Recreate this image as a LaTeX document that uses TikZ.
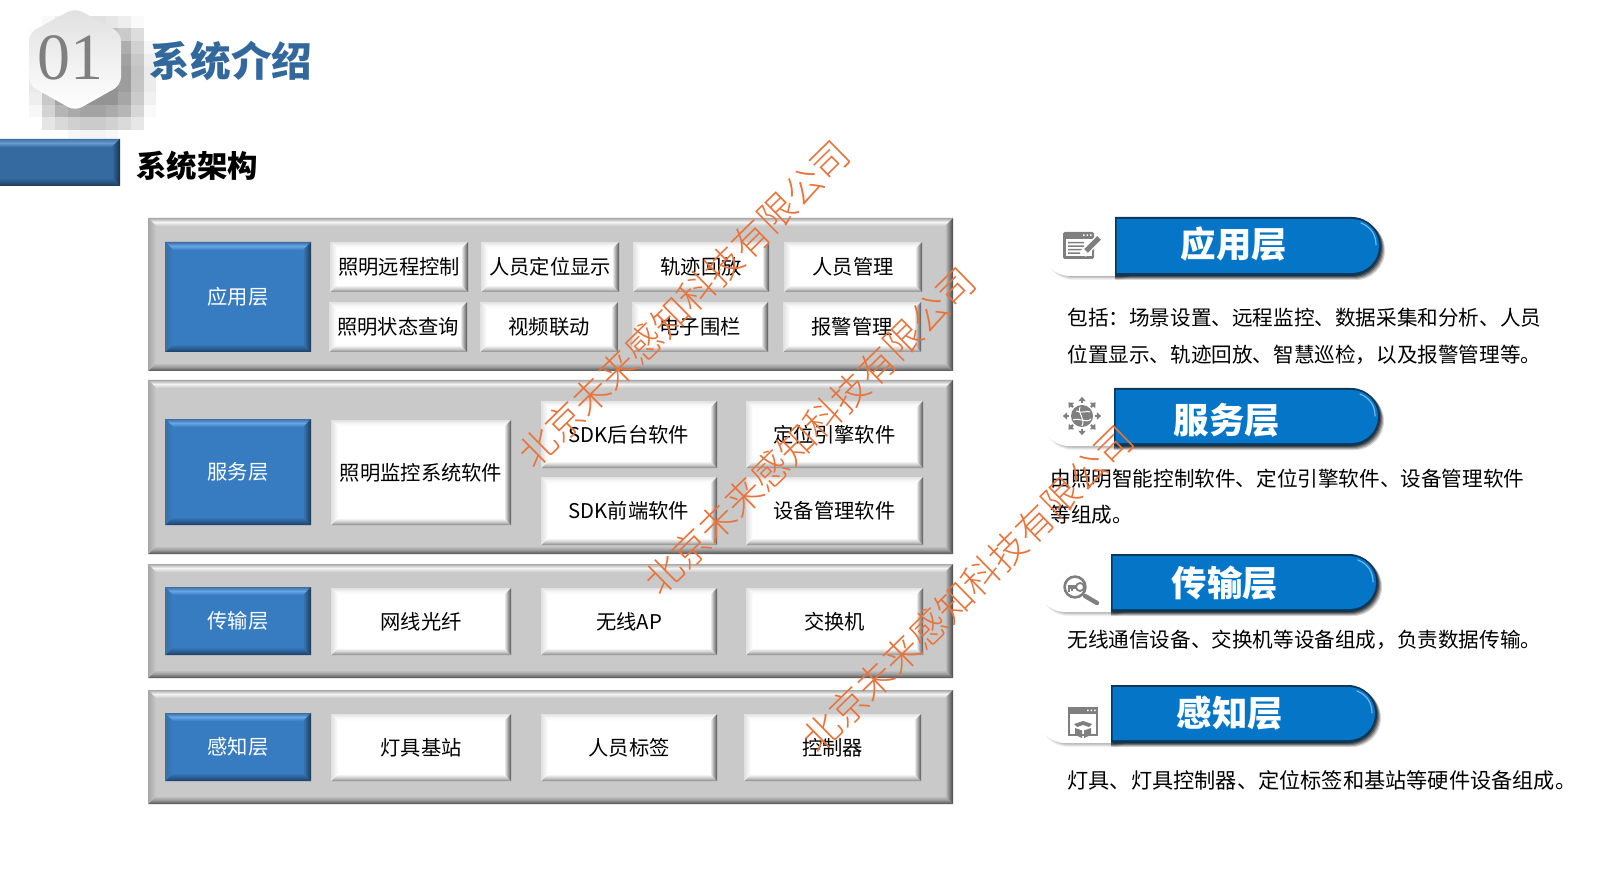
\documentclass[tikz,border=0pt]{standalone}
\usepackage{fontspec}
\setmainfont{Noto Sans CJK SC}
\newfontfamily\wmfont{Noto Sans CJK SC Light}
\newfontfamily\numfont{Liberation Serif}
\usetikzlibrary{calc}
\newcommand{\fwcolon}{\symbol{"FF1A}}
\newcommand{\fwcomma}{\symbol{"FF0C}}
% grey panel
\definecolor{panmain}{HTML}{C9C9C9}\definecolor{pantopa}{HTML}{A8A8A8}\definecolor{pantopb}{HTML}{F4F4F4}
\definecolor{panbota}{HTML}{4F4F4F}\definecolor{panbotb}{HTML}{9A9A9A}\definecolor{panlefta}{HTML}{A6A6A6}\definecolor{panrighta}{HTML}{454545}
% blue box
\definecolor{blumain}{HTML}{377CC0}\definecolor{blutopa}{HTML}{3D6E9F}\definecolor{blutopb}{HTML}{68A6E8}
\definecolor{blubota}{HTML}{1D3F62}\definecolor{blubotb}{HTML}{2B5F95}\definecolor{blulefta}{HTML}{3A70A6}\definecolor{blurighta}{HTML}{1B3A5A}
% white box
\definecolor{whimain}{HTML}{FFFFFF}\definecolor{whitopa}{HTML}{E2E2E2}\definecolor{whitopb}{HTML}{F8F8F8}
\definecolor{whibota}{HTML}{8A8A8A}\definecolor{whibotb}{HTML}{D0D0D0}\definecolor{whilefta}{HTML}{E0E0E0}\definecolor{whirighta}{HTML}{555555}
% header bar
\definecolor{barmain}{HTML}{346A9F}\definecolor{bartopa}{HTML}{3F73A6}\definecolor{bartopb}{HTML}{6A9BD0}
\definecolor{barbota}{HTML}{1B3B5C}\definecolor{barbotb}{HTML}{2A5580}\definecolor{barlefta}{HTML}{346A9F}\definecolor{barrighta}{HTML}{17324E}
\definecolor{titleblue}{HTML}{33689C}
\definecolor{pillblue}{HTML}{0575C8}
\definecolor{pilldark}{HTML}{0B3858}
\definecolor{pilllight}{HTML}{6FB8F0}
\definecolor{iconcol}{HTML}{7F7F7F}
\definecolor{wmcol}{HTML}{E8743B}
\tikzset{
  whitxt/.style={text=black,font=\fontsize{10.15}{12}\selectfont,inner sep=0pt},
  blutxt/.style={text=white,font=\fontsize{10.15}{12}\selectfont,inner sep=0pt},
  pantxt/.style={inner sep=0pt},
  bartxt/.style={inner sep=0pt},
  bodytxt/.style={anchor=west,inner sep=0pt,text=black,font=\fontsize{10.3}{12}\selectfont},
  widetxt/.style={anchor=west,inner sep=0pt,text=black,font=\fontsize{10.6}{12}\selectfont},
  pilltxt/.style={inner sep=0pt,text=white,font=\fontsize{17.7}{20}\bfseries\selectfont},
  wmtxt/.style={inner sep=0pt,text=wmcol,rotate=44.5,font=\fontsize{18.6}{22}\wmfont\selectfont},
}
% name, x1,y1,x2,y2, family, text, bevel
\newcommand{\bevelbox}[8]{%
  \pgfmathsetmacro\xa{#2+#8}\pgfmathsetmacro\xb{#4-#8}\pgfmathsetmacro\ya{#3+#8}\pgfmathsetmacro\yb{#5-#8}%
  \fill[#6main] (#2,#3) rectangle (#4,#5);
  \shade[top color=#6topa,bottom color=#6main,middle color=#6topb] (#2,#3)--(#4,#3)--(\xb,\ya)--(\xa,\ya)--cycle;
  \shade[top color=#6main,bottom color=#6bota,middle color=#6botb] (#2,#5)--(#4,#5)--(\xb,\yb)--(\xa,\yb)--cycle;
  \shade[left color=#6lefta,right color=#6main] (#2,#3)--(\xa,\ya)--(\xa,\yb)--(#2,#5)--cycle;
  \shade[left color=#6main,right color=#6righta] (#4,#3)--(\xb,\ya)--(\xb,\yb)--(#4,#5)--cycle;
  \node[#6txt] (#1) at ($(#2,#3)!0.5!(#4,#5)$) {#7};
}
% name, x1(blue start), y1, x2, y2, tab left, text, text x, text y
\newcommand{\pillbar}[9]{%
  \pgfmathsetmacro\rad{(#5-#3)/4}%
  \pgfmathsetmacro\radi{(#5-#3-5)/4}%
  \foreach \s/\o in {4/.05,3/.07,2/.09,1/.11}{
    \fill[black,opacity=\o,rounded corners=14pt] (#6+3,#3+\s) -- (#2+30,#3+\s) -- (#2+30,#5+\s) -- (#6+3,#5+\s) -- cycle;
  }
  \foreach \s/\o in {4/.16,3/.22,2/.29,1/.35}{
    \fill[black,opacity=\o] (#2,#3+\s) -- (#4+\s-2*\rad,#3+\s) arc[start angle=90,end angle=-90,radius=\rad pt] -- (#2,#5+\s) -- cycle;
  }
  \fill[white,rounded corners=14pt] (#6,#3) -- (#2+30,#3) -- (#2+30,#5) -- (#6,#5) -- cycle;
  \fill[pilldark] (#2,#3) -- (#4-2*\rad,#3) arc[start angle=90,end angle=-90,radius=\rad pt] -- (#2,#5) -- cycle;
  \fill[pillblue] (#2+1.5,#3+2) -- (#4-2-2*\radi,#3+2) arc[start angle=90,end angle=-90,radius=\radi pt] -- (#2+1.5,#5-3) -- cycle;
  \draw[pilllight,line width=.6pt,line cap=round] (#4-20,#3+6) .. controls (#4-10,#3+10) and (#4-5,#3+18) .. (#4-5,#3+28);
  \node[pilltxt] (#1) at (#8,#9) {#7};
}
\begin{document}
\begin{tikzpicture}[x=0.5pt,y=-0.5pt]
\useasboundingbox (0,0) rectangle (1616,871);
\fill[white] (0,0) rectangle (1616,871);
% blurred shadow of the hexagon
\foreach \i in {0,...,12}{\foreach \j in {0,...,10}{
  \pgfmathsetmacro\cx{4+12.7*\i}\pgfmathsetmacro\cy{3+12.7*\j}
  \pgfmathsetmacro\dxx{abs(\cx+6-92)}\pgfmathsetmacro\dyy{abs(\cy+6-76)}
  \pgfmathsetmacro\rr{0.5*max(\dxx,\dyy)+0.5*sqrt(\dxx*\dxx+\dyy*\dyy)}
  \pgfmathsetmacro\lev{max(0,min(42,42*(1-(\rr-30)/34)))}
  \fill[black!\lev!white] (\cx,\cy) rectangle (\cx+13.2,\cy+13.2);
}}
\shade[top color=black!12,bottom color=white,rounded corners=4pt] (75,8)--(121,33)--(121,85)--(75,111)--(29,85)--(29,33)--cycle;
\node[inner sep=0pt,text=iconcol,font=\fontsize{33}{36}\numfont\selectfont] (num) at (70,58) {01};
\node[inner sep=0pt,text=titleblue,font=\fontsize{20.3}{24}\bfseries\selectfont] (title) at (231,61) {系统介绍};
\bevelbox{bar}{-10}{139}{120}{186}{bar}{}{8}
\node[inner sep=0pt,text=black,font=\fontsize{15.2}{18}\bfseries\selectfont] (sub) at (197,166) {系统架构};
% panels
\bevelbox{p1}{148}{218}{953}{371}{pan}{}{8}
\bevelbox{p2}{148}{380}{953}{554}{pan}{}{8}
\bevelbox{p3}{148}{564}{953}{678}{pan}{}{8}
\bevelbox{p4}{148}{690}{953}{804}{pan}{}{8}
% application layer
\bevelbox{a0}{165}{242}{311}{352}{blu}{应用层}{8}
\bevelbox{a1}{330}{242}{468}{292}{whi}{照明远程控制}{7}
\bevelbox{a2}{481}{242}{619}{292}{whi}{人员定位显示}{7}
\bevelbox{a3}{633}{242}{769}{292}{whi}{轨迹回放}{7}
\bevelbox{a4}{784}{242}{922}{292}{whi}{人员管理}{7}
\bevelbox{a5}{329}{302}{467}{352}{whi}{照明状态查询}{7}
\bevelbox{a6}{480}{302}{618}{352}{whi}{视频联动}{7}
\bevelbox{a7}{632}{302}{768}{352}{whi}{电子围栏}{7}
\bevelbox{a8}{783}{302}{921}{352}{whi}{报警管理}{7}
% service layer
\bevelbox{s0}{165}{419}{311}{525}{blu}{服务层}{8}
\bevelbox{s1}{331}{420}{511}{525}{whi}{照明监控系统软件}{7}
\bevelbox{s2}{541}{401}{717}{468}{whi}{SDK后台软件}{7}
\bevelbox{s3}{746}{401}{923}{468}{whi}{定位引擎软件}{7}
\bevelbox{s4}{541}{477}{717}{545}{whi}{SDK前端软件}{7}
\bevelbox{s5}{746}{477}{923}{545}{whi}{设备管理软件}{7}
% transport layer
\bevelbox{t0}{165}{587}{311}{655}{blu}{传输层}{8}
\bevelbox{t1}{331}{588}{511}{655}{whi}{网线光纤}{7}
\bevelbox{t2}{541}{588}{717}{655}{whi}{无线AP}{7}
\bevelbox{t3}{746}{588}{923}{655}{whi}{交换机}{7}
% perception layer
\bevelbox{g0}{165}{713}{311}{781}{blu}{感知层}{8}
\bevelbox{g1}{331}{714}{511}{781}{whi}{灯具基站}{7}
\bevelbox{g2}{541}{714}{717}{781}{whi}{人员标签}{7}
\bevelbox{g3}{744}{714}{921}{781}{whi}{控制器}{7}
% pills
\pillbar{r1}{1115}{217}{1381}{276}{1042}{应用层}{1234}{244}
\pillbar{r2}{1114}{388}{1380}{446}{1041}{服务层}{1227}{420}
\pillbar{r3}{1111}{554}{1378}{612}{1037}{传输层}{1225}{583}
\pillbar{r4}{1111}{685}{1377}{743}{1037}{感知层}{1230}{713}
% icon: window with pencil
\fill[iconcol,rounded corners=.8pt] (1063,232) rectangle (1094,259);
\fill[white] (1065.5,239) rectangle (1091.5,256.5);
\fill[white] (1083,234.5) rectangle (1084.5,236) (1086.5,234.5) rectangle (1088,236) (1090,234.5) rectangle (1091.5,236);
\fill[iconcol] (1068,242) rectangle (1084,243.4) (1068,245.5) rectangle (1084,246.9) (1068,249) rectangle (1082,250.4) (1068,252.5) rectangle (1080,253.9);
\draw[white,line width=4pt] (1083,254) -- (1097,240);
\draw[iconcol,line width=2.6pt] (1086,251) -- (1099,238);
% icon: globe with arrows
\fill[iconcol] (1082,416) circle[radius=5.5pt];
\draw[white,line width=.5pt] (1076,411) .. controls (1082,414) and (1088,410) .. (1090,412);
\draw[white,line width=.5pt] (1073,420) .. controls (1080,417) and (1086,424) .. (1091,419);
\draw[white,line width=.5pt] (1080,407) .. controls (1077,414) and (1086,418) .. (1082,426);
\foreach \a in {0,45,...,315}{
  \draw[iconcol,line width=1.1pt] ($(1082,416)+(\a:6.3pt)$) -- ($(1082,416)+(\a:7.8pt)$);
  \fill[iconcol] ($(1082,416)+(\a:9.6pt)$) -- ($(1082,416)+(\a:7.4pt)+(\a+90:1.9pt)$) -- ($(1082,416)+(\a:7.4pt)+(\a-90:1.9pt)$) -- cycle;
}
% icon: magnifier with key
\draw[iconcol,line width=1.3pt] (1075,587) circle[radius=5.2pt];
\draw[iconcol,line width=2.2pt,line cap=round] (1085,596) -- (1097,603);
\draw[iconcol,line width=1.6pt] (1068,587) -- (1077,587);
\draw[iconcol,line width=.7pt] (1069,588) -- (1069,592) (1072,588) -- (1072,591);
\draw[iconcol,line width=.9pt] (1080,587) circle[radius=2pt];
% icon: window with box
\draw[iconcol,line width=.8pt] (1069,710) rectangle (1097,735);
\fill[iconcol] (1068,707) rectangle (1098,714);
\fill[white] (1087,709.5) rectangle (1088.5,711) (1090.5,709.5) rectangle (1092,711) (1094,709.5) rectangle (1095.5,711);
\fill[iconcol] (1074,724) -- (1083,721) -- (1083,725) -- (1077,727) -- cycle (1092,724) -- (1083,721) -- (1083,725) -- (1089,727) -- cycle;
\fill[iconcol] (1075,728) -- (1082,730.5) -- (1082,738) -- (1075,735) -- cycle (1091,728) -- (1084,730.5) -- (1084,738) -- (1091,735) -- cycle;
% descriptions
\node[bodytxt] (d1a) at (1067,318) {包括\fwcolon 场景设置、远程监控、数据采集和分析、人员};
\node[bodytxt] (d1b) at (1067,355) {位置显示、轨迹回放、智慧巡检\fwcomma 以及报警管理等。};
\node[bodytxt] (d2a) at (1050,479) {由照明智能控制软件、定位引擎软件、设备管理软件};
\node[bodytxt] (d2b) at (1050,515) {等组成。};
\node[bodytxt] (d3) at (1067,640) {无线通信设备、交换机等设备组成\fwcomma 负责数据传输。};
\node[widetxt] (d4) at (1067,780) {灯具、灯具控制器、定位标签和基站等硬件设备组成。};
% watermarks
\node[wmtxt] (w1) at (684,304) {北京未来感知科技有限公司};
\node[wmtxt] (w2) at (810,431) {北京未来感知科技有限公司};
\node[wmtxt] (w3) at (968,589) {北京未来感知科技有限公司};
\end{tikzpicture}
\end{document}
